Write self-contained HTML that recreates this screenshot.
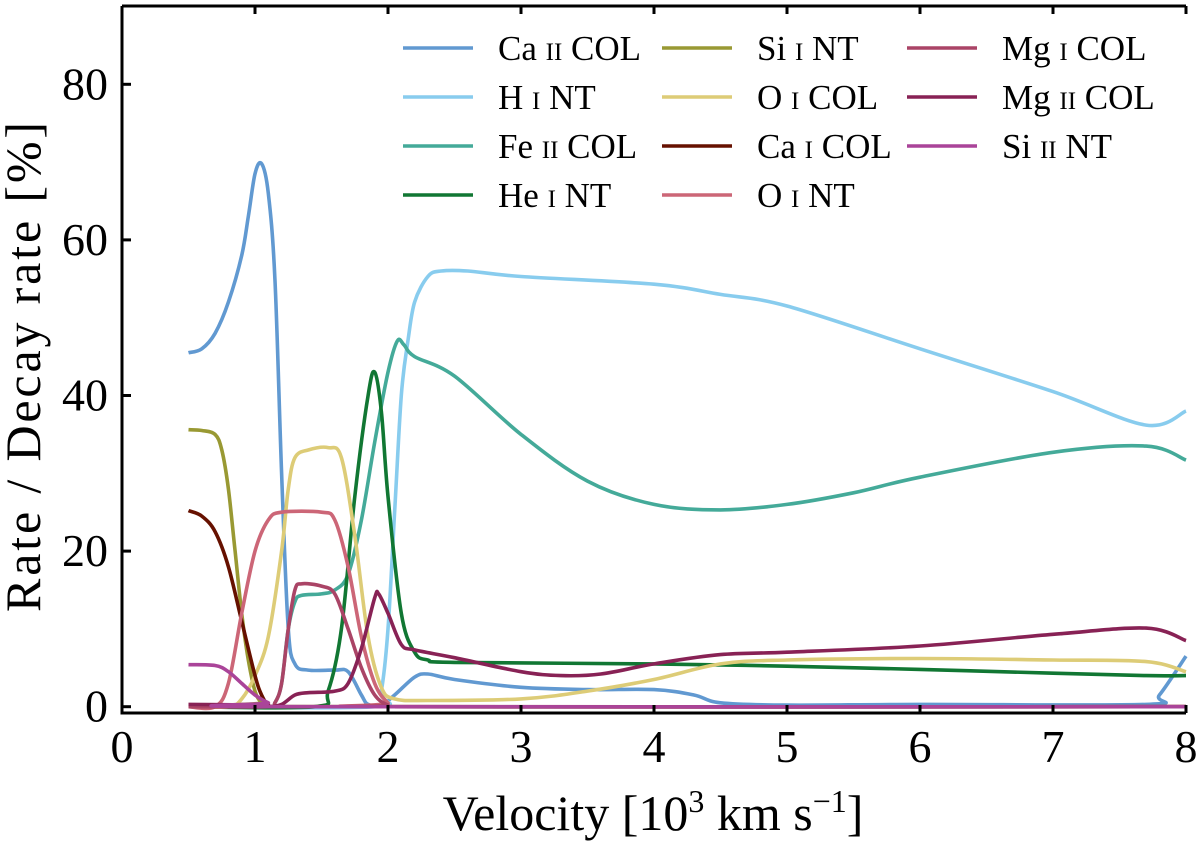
<!DOCTYPE html>
<html><head><meta charset="utf-8"><style>
body{margin:0;background:#fff;}
svg{display:block;font-family:"Liberation Serif",serif;}
</style></head><body>
<svg id="chart" width="1200" height="845" xmlns="http://www.w3.org/2000/svg">
<g id="series"></g>
<g id="axes"></g>
<g id="legend"></g>
<text x="653" y="830" font-size="50" text-anchor="middle">Velocity [10<tspan font-size="32" dy="-18">3</tspan><tspan dy="18"> km s</tspan><tspan font-size="32" dy="-18">−1</tspan><tspan dy="18">]</tspan></text>
<text transform="translate(40,367) rotate(-90)" font-size="50" text-anchor="middle" textLength="490">Rate / Decay rate [%]</text>
</svg>
<script>
const xTicks=[0,1,2,3,4,5,6,7,8];
const yTicks=[0,20,40,60,80];
const caIIx=[0.5,0.6,0.7,0.8,0.9,0.95,1.0,1.05,1.1,1.15,1.2,1.25,1.3,1.4,1.6,1.7,1.8,1.85,1.95,2.05,2.2,2.3,2.5,3.0,3.5,4.0,4.3,4.5,5,6,7.7,7.8,8];
const caIIy=[45.5,46,48,52,58,63,68.5,69.8,66,55,30,10,5.5,4.7,4.7,4.5,1.5,0.3,0.2,1.5,3.8,4.2,3.5,2.5,2.2,2.2,1.5,0.5,0.2,0.3,0.3,1.5,6.5];
const hIx=[0.5,1.9,1.95,2.0,2.05,2.1,2.15,2.2,2.3,2.4,2.6,3,4,4.5,5,6,7,7.7,8];
const hIy=[0,0,2,10,25,40,47,52,55.3,56,56,55.3,54.3,53,51.5,46,40.5,36.2,38];
const feIIx=[0.5,1.1,1.15,1.2,1.25,1.3,1.35,1.5,1.6,1.7,1.8,1.9,2.0,2.07,2.12,2.2,2.5,3,3.5,4,4.5,5,5.5,6,7,7.7,8];
const feIIy=[0,0,0.5,3,10,13.5,14.3,14.5,15,17,24,34,43,47,46.5,45,42.5,35,29,26,25.3,26,27.5,29.5,32.7,33.5,31.7];
const heIx=[0.5,1.45,1.55,1.65,1.75,1.85,1.9,1.95,2.0,2.1,2.2,2.3,2.5,4,5,6,7,7.7,8];
const heIy=[0,0,2,10,27,40,43,38,27,12,7,6,5.7,5.5,5.2,4.8,4.3,4,4];
const siIx=[0.5,0.6,0.7,0.75,0.8,0.85,0.9,0.95,1.0,1.05,1.1,8];
const siIy=[35.6,35.5,35,33,28,20,12,6,2,0.5,0,0];
const oIcx=[0.5,0.8,0.9,1.0,1.1,1.2,1.25,1.3,1.4,1.55,1.65,1.75,1.85,1.95,2.05,2.3,3,3.5,4,4.5,5,6,7,7.7,8];
const oIcy=[0,0,1,4,9,20,28,32,33,33.3,32,22,9,2.5,1,0.8,1,2,3.5,5.5,6,6.2,6,5.8,4.5];
const caIx=[0.5,0.6,0.7,0.8,0.9,1.0,1.05,1.1,1.2,8];
const caIy=[25.2,24.5,22.5,18,11,4,1.5,0.3,0,0];
const oInx=[0.5,0.7,0.8,0.9,1.0,1.1,1.2,1.5,1.6,1.7,1.8,1.9,2.0,2.1,8];
const oIny=[0,0,3,12,20,24,25,25,24,18,9,3,0.5,0,0];
const mgIx=[0.5,1.1,1.15,1.2,1.25,1.3,1.35,1.5,1.6,1.7,1.8,1.9,2.0,2.1,8];
const mgIy=[0,0,0.5,3,10,15,15.8,15.5,14.5,10,5,1.5,0.2,0,0];
const mgIIx=[0.5,1.0,1.1,1.2,1.3,1.4,1.6,1.7,1.8,1.9,1.93,2.0,2.1,2.2,2.5,3,3.3,3.6,4,4.5,5,6,7,7.7,8];
const mgIIy=[0.3,0.2,0,0.3,1.5,1.8,2,3,7.5,14,14.5,12,8,7.3,6.3,4.5,4,4.2,5.5,6.7,7,7.8,9.3,10.1,8.5];
const siIIx=[0.5,0.7,0.8,0.9,1.0,1.1,1.2,8];
const siIIy=[5.4,5.3,4.5,3,1.5,0.5,0,0];

const X=v=>122+133*v;
const Y=v=>706.7-7.78*v;
const NS="http://www.w3.org/2000/svg";
function mk(t,a){const e=document.createElementNS(NS,t);for(const k in a)e.setAttribute(k,a[k]);return e;}
function pathD(xs,ys){
  const p=xs.map((x,i)=>[X(x),Y(ys[i])]);
  let d="M"+p[0][0]+","+p[0][1];
  for(let i=0;i<p.length-1;i++){
    const p0=p[i-1]||p[i],p1=p[i],p2=p[i+1],p3=p[i+2]||p2;
    const c1x=p1[0]+(p2[0]-p0[0])/6,c1y=p1[1]+(p2[1]-p0[1])/6;
    const c2x=p2[0]-(p3[0]-p1[0])/6,c2y=p2[1]-(p3[1]-p1[1])/6;
    d+=" C"+c1x.toFixed(1)+","+c1y.toFixed(1)+" "+c2x.toFixed(1)+","+c2y.toFixed(1)+" "+p2[0].toFixed(1)+","+p2[1].toFixed(1);
  }
  return d;
}
const series=[
 ["ca-ii-col",caIIx,caIIy,"#6199d1",["Ca","II","COL"],0,0],
 ["h-i-nt",hIx,hIy,"#88ccee",["H","I","NT"],0,1],
 ["fe-ii-col",feIIx,feIIy,"#44aa99",["Fe","II","COL"],0,2],
 ["he-i-nt",heIx,heIy,"#117733",["He","I","NT"],0,3],
 ["si-i-nt",siIx,siIy,"#999933",["Si","I","NT"],1,0],
 ["o-i-col",oIcx,oIcy,"#ddcc77",["O","I","COL"],1,1],
 ["ca-i-col",caIx,caIy,"#661100",["Ca","I","COL"],1,2],
 ["o-i-nt",oInx,oIny,"#cc6677",["O","I","NT"],1,3],
 ["mg-i-col",mgIx,mgIy,"#aa4466",["Mg","I","COL"],2,0],
 ["mg-ii-col",mgIIx,mgIIy,"#882255",["Mg","II","COL"],2,1],
 ["si-ii-nt",siIIx,siIIy,"#aa4499",["Si","II","NT"],2,2]
];
const sg=document.getElementById("series"),lg=document.getElementById("legend"),ax=document.getElementById("axes");
const colX=[403,662,907],rowY=[48,97,146,195];
series.forEach(s=>{
  const p=mk("path",{d:pathD(s[1],s[2]),fill:"none",stroke:s[3],"stroke-width":3.6,"stroke-linejoin":"round"});
  
  
  sg.appendChild(p);
  const lx=colX[s[5]],ly=rowY[s[6]];
  const g=mk("g",{});
  
  
  g.appendChild(mk("line",{x1:lx,x2:lx+70,y1:ly,y2:ly,stroke:s[3],"stroke-width":3.6}));
  const t=mk("text",{x:lx+95,y:ly+12,"font-size":35});
  t.innerHTML=s[4][0]+' <tspan font-size="25">'+s[4][1]+'</tspan> '+s[4][2];
  g.appendChild(t);
  lg.appendChild(g);
});
const fr=mk("path",{d:"M122,6 H1186 M122,6 V713 H1186",fill:"none",stroke:"#000","stroke-width":3});


ax.appendChild(fr);
xTicks.forEach(v=>{
  ax.appendChild(mk("line",{x1:X(v),x2:X(v),y1:713,y2:705,stroke:"#000","stroke-width":3}));
  ax.appendChild(mk("line",{x1:X(v),x2:X(v),y1:6,y2:14,stroke:"#000","stroke-width":3}));
  const t=mk("text",{x:X(v),y:762,"font-size":46,"text-anchor":"middle"});
  t.textContent=v;
  
  
  ax.appendChild(t);
});
yTicks.forEach(v=>{
  ax.appendChild(mk("line",{x1:122,x2:131,y1:Y(v),y2:Y(v),stroke:"#000","stroke-width":3}));
  const t=mk("text",{x:108,y:Y(v)+15,"font-size":46,"text-anchor":"end"});
  t.textContent=v;
  
  
  ax.appendChild(t);
});
</script>
</body></html>
